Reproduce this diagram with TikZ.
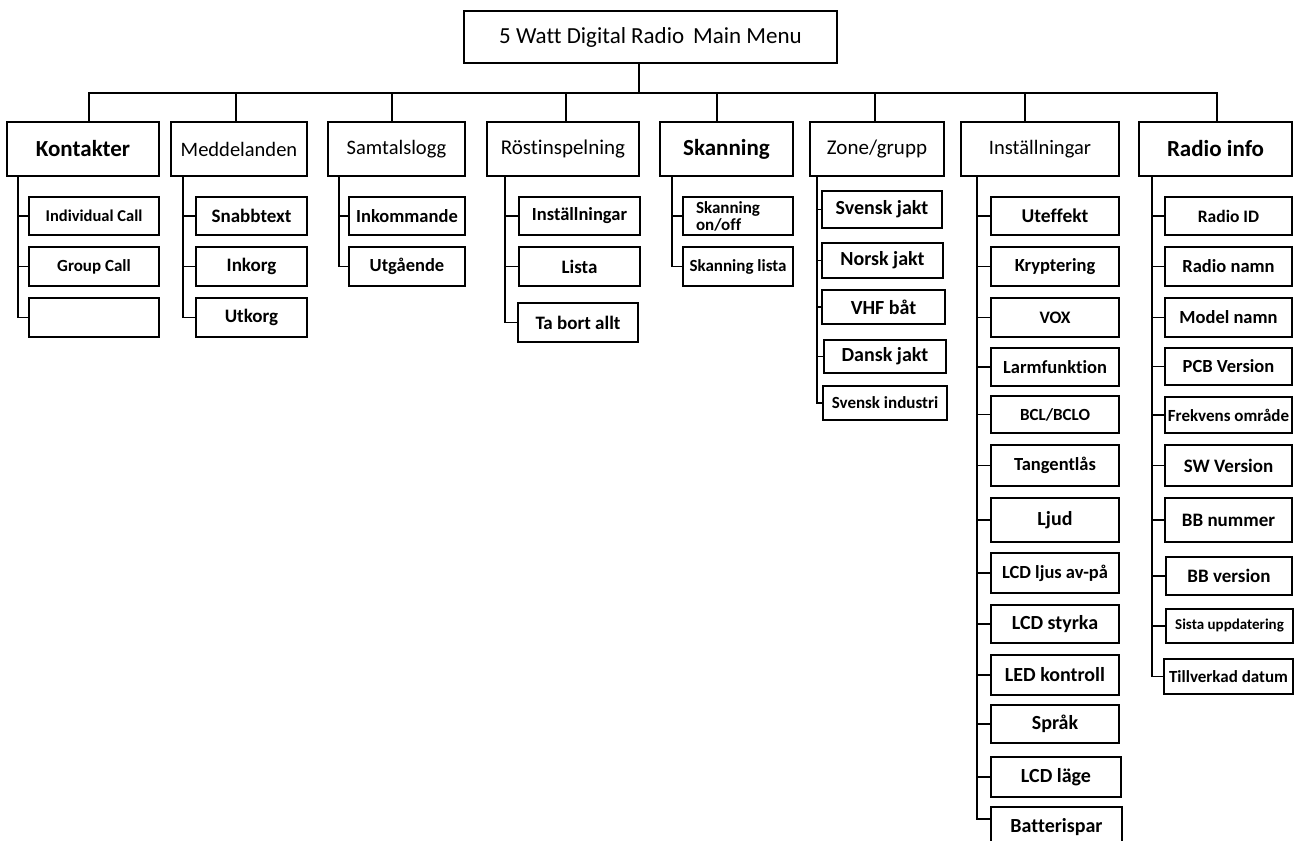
\documentclass[tikz,border=0pt]{standalone}
\usepackage{fontspec}
\setmainfont{Carlito}[Ligatures=NoCommon]
\newcommand\fs[1]{\fontsize{#1}{#1}\selectfont}
% \boxat{name}{style}{x1}{y1}{x2}{y2}{text}
\newcommand\boxat[7]{\node[#2, minimum width={(#5-#3)*1pt}, minimum height={(#6-#4)*1pt}] (#1) at ({(#3+#5)/2},{(#4+#6)/2}) {#7};}
\begin{document}
\begin{tikzpicture}[x=1pt,y=-1pt,
  box/.style={draw=black, rectangle, inner sep=0pt, align=center, text=black},
  tbox/.style={box, line width=2.7pt},
  nbox/.style={box, line width=1.3pt},
  busline/.style={line width=2.9pt, line join=miter},
  twig/.style={line width=1.6pt},
  bigf/.style={font=\bfseries\fs{23}},
  midf/.style={font=\fs{20.5}},
  kid/.style={font=\bfseries\fs{#1}},
  kid/.default=19.5
]
\clip (0,0) rectangle (1302,841);
\fill[white] (0,0) rectangle (1302,841);

% main box
\boxat{main}{tbox, font=\fs{23}}{464}{11}{837}{63}{5 Watt Digital Radio\, Main Menu}

% level 1
\boxat{kon}{tbox, bigf}{7}{122}{159}{176}{Kontakter}
\boxat{med}{tbox, midf}{171}{122}{307}{176}{Meddelanden}
\boxat{sam}{tbox, midf}{328}{122}{465}{176}{Samtalslogg}
\boxat{ros}{tbox, font=\fs{21}}{487}{122}{639}{176}{Röstinspelning}
\boxat{ska}{tbox, bigf}{660}{122}{793}{176}{Skanning}
\boxat{zon}{tbox, font=\fs{21}}{810}{122}{944}{176}{Zone/grupp}
\boxat{ins}{tbox, midf}{961}{122}{1119}{176}{Inställningar}
\boxat{rad}{tbox, bigf}{1139}{122}{1292}{176}{Radio info}

% top bus
\coordinate (bus) at (639,93);
\coordinate (d1) at (89,93);
\coordinate (d2) at (236,93);
\coordinate (d3) at (392,93);
\coordinate (d4) at (566,93);
\coordinate (d5) at (717,93);
\coordinate (d6) at (875,93);
\coordinate (d7) at (1025,93);
\coordinate (d8) at (1217,93);
\draw[busline] (bus |- main.south) -- (bus);
\draw[busline] (d1 |- kon.north) -- (d1) -- (d8) -- (d8 |- rad.north);
\draw[busline] (d2) -- (d2 |- med.north);
\draw[busline] (d3) -- (d3 |- sam.north);
\draw[busline] (d4) -- (d4 |- ros.north);
\draw[busline] (d5) -- (d5 |- ska.north);
\draw[busline] (d6) -- (d6 |- zon.north);
\draw[busline] (d7) -- (d7 |- ins.north);

% Kontakter children
\boxat{k1}{tbox, kid=16.5}{29}{197}{159}{235}{Individual Call}
\boxat{k2}{tbox, kid=17}{29}{247}{159}{286}{Group Call}
\boxat{k3}{tbox}{29}{298}{159}{337}{}
\coordinate (kv) at (18,0);
\draw[twig] (kv |- kon.south) |- (k3.west);
\draw[twig] (kv |- k1.west) -- (k1.west);
\draw[twig] (kv |- k2.west) -- (k2.west);

% Meddelanden children
\boxat{m1}{tbox, kid=19}{196}{197}{307}{235}{Snabbtext}
\boxat{m2}{tbox, kid=19}{196}{247}{307}{286}{Inkorg}
\boxat{m3}{tbox, kid=19}{196}{298}{307}{337}{Utkorg}
\coordinate (mv) at (183,0);
\draw[twig] (mv |- med.south) |- (m3.west);
\draw[twig] (mv |- m1.west) -- (m1.west);
\draw[twig] (mv |- m2.west) -- (m2.west);

% Samtalslogg children
\boxat{s1}{tbox, kid=18.5}{349}{197}{465}{235}{Inkommande}
\boxat{s2}{tbox, kid=18.5}{349}{247}{465}{286}{Utgående}
\coordinate (sv) at (339,0);
\draw[twig] (sv |- sam.south) |- (s2.west);
\draw[twig] (sv |- s1.west) -- (s1.west);

% Röstinspelning children
\boxat{r1}{tbox, kid=18.5}{519}{197}{640}{235}{Inställningar}
\boxat{r2}{tbox, kid=19}{519}{247}{640}{286}{Lista}
\boxat{r3}{tbox, kid=19}{518}{303}{638}{342}{Ta bort allt}
\coordinate (rv) at (505,0);
\draw[twig] (rv |- ros.south) |- (r3.west);
\draw[twig] (rv |- r1.west) -- (r1.west);
\draw[twig] (rv |- r2.west) -- (r2.west);

% Skanning children
\boxat{c1}{tbox, kid=17, text width=84pt, align=left}{683}{197}{793}{235}{Skanning\\on/off}
\boxat{c2}{tbox, kid=17}{683}{247}{793}{286}{Skanning lista}
\coordinate (cv) at (672,0);
\draw[twig] (cv |- ska.south) |- (c2.west);
\draw[line width=2.4pt] (cv |- c1.west) -- (c1.west);

% Zone/grupp children
\boxat{z1}{nbox, kid=20}{822}{191}{942}{228}{Svensk jakt}
\boxat{z2}{nbox, kid=20}{822}{243}{943}{278}{Norsk jakt}
\boxat{z3}{nbox, kid=20}{822}{290}{945}{324}{VHF båt}
\boxat{z4}{nbox, kid=20}{824}{340}{946}{373}{Dansk jakt}
\boxat{z5}{nbox, kid=17}{823}{386}{947}{420}{Svensk industri}
\coordinate (zv) at (817,0);
\draw[twig] (zv |- zon.south) |- (z5.west);
\draw[twig] (zv |- z1.west) -- (z1.west);
\draw[twig] (zv |- z2.west) -- (z2.west);
\draw[twig] (zv |- z3.west) -- (z3.west);
\draw[twig] (zv |- z4.west) -- (z4.west);

% Inställningar children
\boxat{i1}{tbox, kid=19.5}{991}{197}{1119}{235}{Uteffekt}
\boxat{i2}{tbox, kid=18.5}{991}{247}{1119}{286}{Kryptering}
\boxat{i3}{tbox, kid=17.5}{991}{298}{1119}{337}{VOX}
\boxat{i4}{tbox, kid=18.5}{991}{348}{1119}{386}{Larmfunktion}
\boxat{i5}{tbox, kid=17}{991}{396}{1119}{433}{BCL/BCLO}
\boxat{i6}{tbox, kid=18.5}{991}{445}{1119}{486}{Tangentlås}
\boxat{i7}{tbox, kid=20}{991}{498}{1119}{542}{Ljud}
\boxat{i8}{tbox, kid=18.5}{991}{553}{1119}{593}{LCD ljus av-på}
\boxat{i9}{tbox, kid=20}{991}{605}{1119}{643}{LCD styrka}
\boxat{i10}{tbox, kid=20}{991}{655}{1119}{695}{LED kontroll}
\boxat{i11}{tbox, kid=20}{991}{705}{1119}{743}{Språk}
\boxat{i12}{tbox, kid=20}{991}{757}{1121}{797}{LCD läge}
\boxat{i13}{nbox, kid=20}{991}{807}{1122}{847}{Batterispar}
\coordinate (iv) at (977,0);
\draw[twig] (iv |- ins.south) |- ([yshift=8pt]i13.west);
\foreach \n in {i1,i2,i3,i4,i5,i6,i7,i8,i9,i10,i11,i12}
  \draw[twig] (iv |- \n.west) -- (\n.west);

% Radio info children
\boxat{a1}{tbox, kid=17.5}{1165}{197}{1292}{235}{Radio ID}
\boxat{a2}{tbox, kid=18.5}{1165}{247}{1292}{286}{Radio namn}
\boxat{a3}{tbox, kid=18.5}{1165}{298}{1292}{337}{Model namn}
\boxat{a4}{tbox, kid=18.5}{1165}{348}{1292}{385}{PCB Version}
\boxat{a5}{tbox, kid=17}{1165}{397}{1292}{433}{Frekvens område}
\boxat{a6}{tbox, kid=19}{1165}{445}{1292}{486}{SW Version}
\boxat{a7}{tbox, kid=19}{1165}{498}{1292}{542}{BB nummer}
\boxat{a8}{nbox, kid=19}{1166}{557}{1292}{595}{BB version}
\boxat{a9}{nbox, kid=15}{1166}{609}{1293}{643}{Sista uppdatering}
\boxat{a10}{nbox, kid=17}{1164}{659}{1293}{694}{Tillverkad datum}
\coordinate (av) at (1152,0);
\draw[twig] (av |- rad.south) |- (a10.west);
\foreach \n in {a1,a2,a3,a4,a5,a6,a7,a8,a9}
  \draw[twig] (av |- \n.west) -- (\n.west);
\end{tikzpicture}
\end{document}
